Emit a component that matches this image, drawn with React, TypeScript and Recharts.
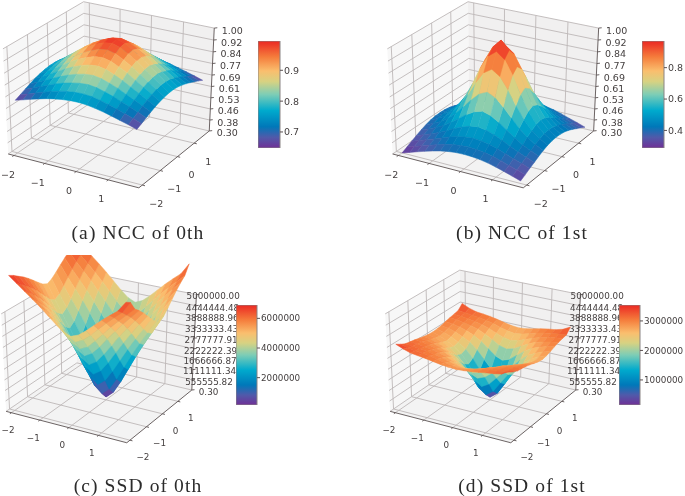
import { BarChart, Bar, Scatter, ScatterChart, XAxis, YAxis } from "recharts";

const AXIS_TICKS = [-2, -1, 0, 1];
const GRID_STEPS = [-2, -1.75, -1.5, -1.25, -1, -0.75, -0.5, -0.25, 0, 0.25, 0.5, 0.75, 1, 1.25, 1.5, 1.75];

const NCC_Z_TICKS = [0.3, 0.3778, 0.4556, 0.5333, 0.6111, 0.6889, 0.7667, 0.8444, 0.9222, 1.0];
const NCC_Z_LABELS = ["0.30", "0.38", "0.46", "0.53", "0.61", "0.69", "0.77", "0.84", "0.92", "1.00"];
const SSD_Z_TICKS = [0.3, 555555.82, 1111111.34, 1666666.87, 2222222.39, 2777777.91, 3333333.43, 3888888.96, 4444444.48, 5000000];
const SSD_Z_LABELS = ["0.30", "555555.82", "1111111.34", "1666666.87", "2222222.39", "2777777.91", "3333333.43", "3888888.96", "4444444.48", "5000000.00"];

// surface heights, one row per y step
const ncc0 = [
  [0.66, 0.675, 0.691, 0.706, 0.72, 0.731, 0.739, 0.744, 0.745, 0.741, 0.732, 0.721, 0.707, 0.692, 0.677, 0.66],
  [0.675, 0.692, 0.711, 0.729, 0.746, 0.76, 0.77, 0.777, 0.779, 0.774, 0.762, 0.748, 0.731, 0.713, 0.695, 0.675],
  [0.691, 0.711, 0.733, 0.754, 0.775, 0.792, 0.805, 0.815, 0.818, 0.811, 0.796, 0.779, 0.757, 0.736, 0.714, 0.691],
  [0.706, 0.729, 0.754, 0.779, 0.803, 0.824, 0.841, 0.853, 0.857, 0.848, 0.83, 0.809, 0.783, 0.758, 0.732, 0.706],
  [0.72, 0.746, 0.775, 0.803, 0.832, 0.857, 0.877, 0.892, 0.896, 0.886, 0.864, 0.839, 0.809, 0.779, 0.75, 0.72],
  [0.731, 0.76, 0.792, 0.824, 0.857, 0.885, 0.908, 0.926, 0.931, 0.919, 0.894, 0.866, 0.831, 0.798, 0.764, 0.731],
  [0.739, 0.77, 0.805, 0.841, 0.877, 0.908, 0.933, 0.954, 0.96, 0.947, 0.919, 0.887, 0.849, 0.812, 0.775, 0.739],
  [0.744, 0.777, 0.815, 0.853, 0.892, 0.926, 0.954, 0.976, 0.983, 0.968, 0.937, 0.903, 0.862, 0.822, 0.783, 0.744],
  [0.745, 0.779, 0.818, 0.857, 0.896, 0.931, 0.96, 0.983, 0.99, 0.975, 0.943, 0.908, 0.866, 0.825, 0.784, 0.745],
  [0.741, 0.774, 0.811, 0.848, 0.886, 0.919, 0.947, 0.968, 0.975, 0.96, 0.931, 0.897, 0.856, 0.818, 0.779, 0.741],
  [0.732, 0.762, 0.796, 0.83, 0.864, 0.894, 0.919, 0.937, 0.943, 0.931, 0.904, 0.874, 0.837, 0.802, 0.767, 0.732],
  [0.721, 0.748, 0.779, 0.809, 0.839, 0.866, 0.887, 0.903, 0.908, 0.897, 0.874, 0.848, 0.815, 0.785, 0.752, 0.721],
  [0.707, 0.731, 0.757, 0.783, 0.809, 0.831, 0.849, 0.862, 0.866, 0.856, 0.837, 0.815, 0.788, 0.761, 0.734, 0.707],
  [0.692, 0.713, 0.736, 0.758, 0.779, 0.798, 0.812, 0.822, 0.825, 0.818, 0.802, 0.785, 0.761, 0.738, 0.716, 0.692],
  [0.677, 0.695, 0.714, 0.732, 0.75, 0.764, 0.775, 0.783, 0.784, 0.779, 0.767, 0.752, 0.734, 0.716, 0.697, 0.677],
  [0.66, 0.675, 0.691, 0.706, 0.72, 0.731, 0.739, 0.744, 0.745, 0.741, 0.732, 0.721, 0.707, 0.692, 0.677, 0.66],
];

const b8 = [0.3, 0.317, 0.335, 0.352, 0.368, 0.382, 0.392, 0.398, 0.4, 0.398, 0.392, 0.382, 0.368, 0.352, 0.335, 0.317];
const b7 = [0.317, 0.334, 0.353, 0.37, 0.388, 0.404, 0.416, 0.423, 0.426, 0.423, 0.416, 0.404, 0.388, 0.37, 0.353, 0.334];
const b6 = [0.335, 0.353, 0.372, 0.391, 0.411, 0.431, 0.447, 0.458, 0.463, 0.458, 0.447, 0.431, 0.411, 0.391, 0.372, 0.353];
const b5 = [0.352, 0.37, 0.391, 0.413, 0.438, 0.466, 0.49, 0.509, 0.518, 0.509, 0.49, 0.466, 0.438, 0.413, 0.391, 0.37];
const b4 = [0.368, 0.388, 0.411, 0.438, 0.473, 0.513, 0.552, 0.584, 0.6, 0.584, 0.552, 0.513, 0.473, 0.438, 0.411, 0.388];
const b3 = [0.382, 0.404, 0.431, 0.466, 0.513, 0.572, 0.632, 0.683, 0.708, 0.683, 0.632, 0.572, 0.513, 0.466, 0.431, 0.404];
const b2 = [0.392, 0.416, 0.447, 0.49, 0.552, 0.632, 0.725, 0.8, 0.835, 0.8, 0.725, 0.632, 0.552, 0.49, 0.447, 0.416];
const b1 = [0.398, 0.423, 0.458, 0.509, 0.584, 0.683, 0.8, 0.89, 0.93, 0.89, 0.8, 0.683, 0.584, 0.509, 0.458, 0.423];
const b0 = [0.4, 0.426, 0.463, 0.518, 0.6, 0.708, 0.835, 0.93, 0.985, 0.93, 0.835, 0.708, 0.6, 0.518, 0.463, 0.426];
const ncc1 = [b8, b7, b6, b5, b4, b3, b2, b1, b0, b1, b2, b3, b4, b5, b6, b7];

// millions
const c8 = [6.8, 6.5, 6.21, 5.92, 5.62, 5.29, 4.96, 4.67, 4.52, 4.67, 4.96, 5.29, 5.62, 5.92, 6.21, 6.7];
const c7 = [6.67, 6.32, 6.0, 5.68, 5.34, 4.97, 4.6, 4.28, 4.11, 4.28, 4.6, 4.97, 5.34, 5.68, 6.0, 6.55];
const c6 = [6.5, 6.11, 5.75, 5.39, 5.0, 4.58, 4.17, 3.8, 3.61, 3.8, 4.17, 4.58, 5.0, 5.39, 5.75, 6.11];
const c5 = [6.34, 5.9, 5.5, 5.1, 4.66, 4.2, 3.73, 3.33, 3.11, 3.33, 3.73, 4.2, 4.66, 5.1, 5.5, 5.9];
const c4 = [6.14, 5.65, 5.2, 4.74, 4.26, 3.73, 3.21, 2.75, 2.51, 2.75, 3.21, 3.73, 4.26, 4.74, 5.2, 5.65];
const c3 = [5.92, 5.37, 4.87, 4.36, 3.81, 3.23, 2.64, 2.13, 1.86, 2.13, 2.64, 3.23, 3.81, 4.36, 4.87, 5.37];
const c2 = [5.69, 5.08, 4.51, 3.95, 3.34, 2.68, 2.03, 1.46, 1.16, 1.46, 2.03, 2.68, 3.34, 3.95, 4.51, 5.08];
const c1 = [5.48, 4.81, 4.19, 3.57, 2.9, 2.18, 1.47, 0.84, 0.51, 0.84, 1.47, 2.18, 2.9, 3.57, 4.19, 4.81];
const c0 = [5.36, 4.66, 4.01, 3.36, 2.66, 1.91, 1.16, 0.51, 0.16, 0.51, 1.16, 1.91, 2.66, 3.36, 4.01, 4.66];
const ssd0 = [c8, c7, c6, c5, c4, c3, c2, c1, c0, c1, c2, c3, c4, c5, c6, c7];

const d8 = [3.45, 3.3, 3.18, 3.13, 3.08, 3.02, 2.96, 2.92, 2.9, 2.92, 2.96, 3.02, 3.08, 3.13, 3.2, 3.42];
const d7a = [3.3, 3.2, 3.14, 3.1, 3.05, 2.98, 2.89, 2.82, 2.78, 2.82, 2.89, 2.98, 3.05, 3.1, 3.14, 3.25];
const d7b = [3.42, 3.25, 3.14, 3.1, 3.05, 2.98, 2.89, 2.82, 2.78, 2.82, 2.89, 2.98, 3.05, 3.1, 3.2, 3.4];
const d6 = [3.18, 3.14, 3.1, 3.05, 2.98, 2.9, 2.78, 2.68, 2.62, 2.68, 2.78, 2.9, 2.98, 3.05, 3.1, 3.14];
const d5 = [3.13, 3.1, 3.05, 2.98, 2.9, 2.78, 2.62, 2.48, 2.4, 2.48, 2.62, 2.78, 2.9, 2.98, 3.05, 3.1];
const d4 = [3.08, 3.05, 2.98, 2.9, 2.8, 2.63, 2.42, 2.2, 2.1, 2.2, 2.42, 2.63, 2.8, 2.9, 2.98, 3.05];
const d3 = [3.02, 2.98, 2.9, 2.78, 2.63, 2.4, 2.1, 1.8, 1.65, 1.8, 2.1, 2.4, 2.63, 2.78, 2.9, 2.98];
const d2 = [2.96, 2.89, 2.78, 2.62, 2.42, 2.1, 1.68, 1.27, 1.05, 1.27, 1.68, 2.1, 2.42, 2.62, 2.78, 2.89];
const d1 = [2.92, 2.82, 2.68, 2.48, 2.2, 1.8, 1.27, 0.72, 0.45, 0.72, 1.27, 1.8, 2.2, 2.48, 2.68, 2.82];
const d0 = [2.9, 2.78, 2.62, 2.4, 2.1, 1.65, 1.05, 0.45, 0.15, 0.45, 1.05, 1.65, 2.1, 2.4, 2.62, 2.78];
const ssd1 = [d8, d7a, d6, d5, d4, d3, d2, d1, d0, d1, d2, d3, d4, d5, d6, d7b];

const COLOR_STOPS: [number, number[]][] = [
  [0, [112, 48, 150]],
  [0.1, [80, 90, 170]],
  [0.2, [0, 120, 185]],
  [0.35, [0, 170, 205]],
  [0.5, [125, 205, 182]],
  [0.62, [215, 210, 130]],
  [0.72, [250, 190, 110]],
  [0.85, [245, 125, 60]],
  [1, [235, 40, 35]],
];

const GRID_COLOR = "#bdb8b8";
const AXIS_COLOR = "#5b5252";
const TEXT_COLOR = "#454040";
const X_MIN = -2.1875;
const X_SPAN = 4.125;

function colorAt(t: number) {
  const v = Math.max(0, Math.min(1, t));
  let k = 0;
  while (k < COLOR_STOPS.length - 2 && v > COLOR_STOPS[k + 1][0]) k++;
  const [t0, from] = COLOR_STOPS[k];
  const [t1, to] = COLOR_STOPS[k + 1];
  const f = (v - t0) / (t1 - t0);
  return `rgb(${from.map((c, i) => Math.round(c + (to[i] - c) * f)).join(",")})`;
}

interface View {
  left: number;
  top: number;
  width: number;
  height: number;
  cx: number;
  cy: number;
  sx: number;
  sy: number;
}

// same camera as mplot3d defaults: elev 30, azim -60, dist 10, on a unit cube
function project(a: number, b: number, c: number, view: View) {
  const rx = a - 0.5;
  const ry = b - 0.5;
  const rz = c - 0.5;
  const u = 0.866 * rx + 0.5 * ry;
  const v = -0.25 * rx + 0.433 * ry + 0.866 * rz;
  const depth = 10 - (0.433 * rx - 0.75 * ry + 0.5 * rz);
  return {
    px: view.cx + (view.sx * u) / depth - view.left,
    py: view.cy - (view.sy * v) / depth - view.top,
    depth,
  };
}

const normXY = (v: number) => (v - X_MIN) / X_SPAN;

function Poly(props: any) {
  const { cx, cy, payload } = props;
  const d = payload.pts
    .map((p: number[], k: number) => `${k ? "L" : "M"}${(cx + p[0] - payload.x).toFixed(2)} ${(cy + p[1] - payload.y).toFixed(2)}`)
    .join("");
  return (
    <path
      d={payload.fill === "none" ? d : d + "Z"}
      fill={payload.fill}
      stroke={payload.stroke}
      strokeWidth={payload.sw}
    />
  );
}

function Label(props: any) {
  const { cx, cy, payload } = props;
  return (
    <text
      x={cx}
      y={cy}
      fontSize={payload.size}
      fontFamily="DejaVu Sans"
      fill={TEXT_COLOR}
      textAnchor="middle"
      dominantBaseline="central"
    >
      {payload.text}
    </text>
  );
}

function buildShape(corners: number[][], view: View, fill: string, stroke: string, sw: number) {
  const pts = corners.map((c) => project(c[0], c[1], c[2], view));
  return {
    x: pts[0].px,
    y: pts[0].py,
    pts: pts.map((p) => [p.px, p.py]),
    fill,
    stroke,
    sw,
    depth: pts.reduce((s, p) => s + p.depth, 0) / pts.length,
  };
}

function buildFrame(zNorm: number[], view: View) {
  const out = [
    buildShape([[0, 0, 0], [1, 0, 0], [1, 1, 0], [0, 1, 0]], view, "#f3f3f3", "none", 0),
    buildShape([[0, 0, 0], [0, 1, 0], [0, 1, 1], [0, 0, 1]], view, "#f7f7f7", "none", 0),
    buildShape([[0, 1, 0], [1, 1, 0], [1, 1, 1], [0, 1, 1]], view, "#f1f0f0", "none", 0),
  ];
  const line = (a: number[], b: number[], color = GRID_COLOR, sw = 0.9) =>
    out.push(buildShape([a, b], view, "none", color, sw));
  AXIS_TICKS.forEach((t) => {
    const n = normXY(t);
    line([n, 0, 0], [n, 1, 0]);
    line([n, 1, 0], [n, 1, 1]);
    line([0, n, 0], [1, n, 0]);
    line([0, n, 0], [0, n, 1]);
  });
  zNorm.forEach((n) => {
    line([0, 0, n], [0, 1, n]);
    line([0, 1, n], [1, 1, n]);
  });
  line([0, 0, 0], [1, 0, 0], AXIS_COLOR);
  line([1, 0, 0], [1, 1, 0], AXIS_COLOR);
  line([1, 1, 0], [1, 1, 1], AXIS_COLOR);
  AXIS_TICKS.forEach((t) => {
    const n = normXY(t);
    line([n, 0, 0], [n, -0.02, 0], AXIS_COLOR);
    line([1, n, 0], [1.02, n, 0], AXIS_COLOR);
  });
  zNorm.forEach((n) => line([1, 1, n], [1.015, 1.015, n], AXIS_COLOR));
  return out;
}

function buildSurface(rows: number[][], zMin: number, zMax: number, vMin: number, vMax: number, view: View) {
  const zn = (v: number) => (v - zMin) / (zMax - zMin);
  const cells = [];
  for (let j = 0; j < rows.length - 1; j++) {
    for (let i = 0; i < rows[j].length - 1; i++) {
      const zs = [rows[j][i], rows[j][i + 1], rows[j + 1][i + 1], rows[j + 1][i]];
      const avg = (zs[0] + zs[1] + zs[2] + zs[3]) / 4;
      const color = colorAt((avg - vMin) / (vMax - vMin));
      const xa = normXY(GRID_STEPS[i]);
      const xb = normXY(GRID_STEPS[i + 1]);
      const ya = normXY(GRID_STEPS[j]);
      const yb = normXY(GRID_STEPS[j + 1]);
      cells.push(
        buildShape(
          [
            [xa, ya, zn(zs[0])],
            [xb, ya, zn(zs[1])],
            [xb, yb, zn(zs[2])],
            [xa, yb, zn(zs[3])],
          ],
          view,
          color,
          color,
          0.5,
        ),
      );
    }
  }
  return cells.sort((a, b) => b.depth - a.depth);
}

function buildLabels(zNorm: number[], zLabels: string[], view: View, size: number, k: number) {
  const out: any[] = [];
  AXIS_TICKS.forEach((t) => {
    const text = String(t).replace("-", "\u2212");
    const n = normXY(t);
    const a = project(n, 0, 0, view);
    out.push({ x: Math.max(a.px - 7 * k, 8), y: a.py + 19 * k, text, size });
    const b = project(1, n, 0, view);
    out.push({ x: b.px + 14 * k, y: b.py + 18 * k, text, size });
  });
  zNorm.forEach((n, i) => {
    const a = project(1, 1, n, view);
    out.push({ x: a.px + 18 * k, y: a.py + 2 * k, text: zLabels[i], size });
  });
  return out;
}

function Surface3D({ rows, scale, zMin, zMax, vMin, vMax, zTicks, zLabels, view, size, k }: any) {
  const zNorm = zTicks.map((t: number) => (t - zMin) / (zMax - zMin));
  const frame = buildFrame(zNorm, view);
  const values = rows.map((r: number[]) => r.map((v) => v * scale));
  const cells = buildSurface(values, zMin, zMax, vMin, vMax, view);
  const labels = buildLabels(zNorm, zLabels, view, size, k);
  return (
    <div style={{ position: "absolute", left: view.left, top: view.top, width: view.width, height: view.height, overflow: "hidden" }}>
      <ScatterChart width={view.width} height={view.height} margin={{ top: 0, right: 0, bottom: 0, left: 0 }}>
        <XAxis type="number" dataKey="x" domain={[0, view.width]} allowDataOverflow hide />
        <YAxis type="number" dataKey="y" domain={[0, view.height]} allowDataOverflow reversed hide />
        <Scatter data={frame} shape={Poly} isAnimationActive={false} />
        <Scatter data={labels} shape={Label} isAnimationActive={false} />
        <Scatter data={cells} shape={Poly} isAnimationActive={false} />
      </ScatterChart>
    </div>
  );
}

function ColorBar({ id, left, top, height, barWidth, vMin, vMax, ticks, size }: any) {
  const axisWidth = 52;
  return (
    <div style={{ position: "absolute", left, top }}>
      <BarChart
        width={barWidth + axisWidth}
        height={height}
        data={[{ name: "c", range: [vMin, vMax] }]}
        margin={{ top: 0, right: 0, bottom: 0, left: 0 }}
        barCategoryGap={0}
      >
        <defs>
          <linearGradient id={id} x1="0" y1="1" x2="0" y2="0">
            {COLOR_STOPS.map(([t, c]) => (
              <stop key={t} offset={t} stopColor={`rgb(${c.join(",")})`} />
            ))}
          </linearGradient>
        </defs>
        <XAxis dataKey="name" hide />
        <YAxis
          orientation="right"
          type="number"
          width={axisWidth}
          domain={[vMin, vMax]}
          ticks={ticks}
          interval={0}
          allowDataOverflow
          axisLine={false}
          tickSize={3}
          tickMargin={1}
          tickLine={{ stroke: AXIS_COLOR }}
          tick={{ fontSize: size, fill: TEXT_COLOR, fontFamily: "DejaVu Sans" }}
        />
        <Bar dataKey="range" fill={`url(#${id})`} stroke="#8a8484" strokeWidth={1} isAnimationActive={false} />
      </BarChart>
    </div>
  );
}

function Caption({ text, center, y }: { text: string; center: number; y: number }) {
  return (
    <div
      style={{
        position: "absolute",
        left: center - 100,
        width: 200,
        top: y - 12,
        height: 24,
        lineHeight: "24px",
        textAlign: "center",
        fontFamily: "Liberation Serif",
        fontSize: 19.5,
        letterSpacing: 1.1,
        color: "#2b2b2b",
      }}
    >
      {text}
    </div>
  );
}

const viewA: View = { left: 0, top: 0, width: 256, height: 215, cx: 110.3, cy: 91.6, sx: 1508, sy: 1200 };
const viewB: View = { left: 340, top: 0, width: 300, height: 215, cx: 494.7, cy: 91.6, sx: 1508, sy: 1200 };
const viewC: View = { left: 0, top: 255, width: 270, height: 215, cx: 100.4, cy: 353.5, sx: 1393, sy: 1113 };
const viewD: View = { left: 340, top: 255, width: 300, height: 215, cx: 484.4, cy: 353.5, sx: 1393, sy: 1113 };

export default function App() {
  return (
    <div style={{ position: "absolute", left: 0, top: 0, width: 685, height: 496, background: "#fff", overflow: "hidden", filter: "blur(0.35px)" }}>
      <Surface3D rows={ncc0} scale={1} zMin={0.3} zMax={1} vMin={0.648} vMax={0.995} zTicks={NCC_Z_TICKS} zLabels={NCC_Z_LABELS} view={viewA} size={9.5} k={1} />
      <Surface3D rows={ncc1} scale={1} zMin={0.3} zMax={1} vMin={0.288} vMax={0.97} zTicks={NCC_Z_TICKS} zLabels={NCC_Z_LABELS} view={viewB} size={9.5} k={1} />
      <Surface3D rows={ssd0} scale={1e6} zMin={0.3} zMax={5e6} vMin={0.157e6} vMax={6.9e6} zTicks={SSD_Z_TICKS} zLabels={SSD_Z_LABELS} view={viewC} size={8.8} k={0.93} />
      <Surface3D rows={ssd1} scale={1e6} zMin={0.3} zMax={5e6} vMin={0.15e6} vMax={3.54e6} zTicks={SSD_Z_TICKS} zLabels={SSD_Z_LABELS} view={viewD} size={8.8} k={0.93} />
      <ColorBar id="cb-a" left={258} top={41} height={107} barWidth={22} vMin={0.648} vMax={0.995} ticks={[0.7, 0.8, 0.9]} size={9.5} />
      <ColorBar id="cb-b" left={642} top={41} height={107} barWidth={22} vMin={0.288} vMax={0.97} ticks={[0.4, 0.6, 0.8]} size={9.5} />
      <ColorBar id="cb-c" left={236} top={305} height={100} barWidth={21} vMin={0.157e6} vMax={6.9e6} ticks={[2000000, 4000000, 6000000]} size={8.8} />
      <ColorBar id="cb-d" left={619} top={305} height={100} barWidth={21} vMin={0.15e6} vMax={3.54e6} ticks={[1000000, 2000000, 3000000]} size={8.8} />
      <Caption text="(a) NCC of 0th" center={138} y={233} />
      <Caption text="(b) NCC of 1st" center={522} y={233} />
      <Caption text="(c) SSD of 0th" center={138} y={486} />
      <Caption text="(d) SSD of 1st" center={522} y={486} />
    </div>
  );
}
